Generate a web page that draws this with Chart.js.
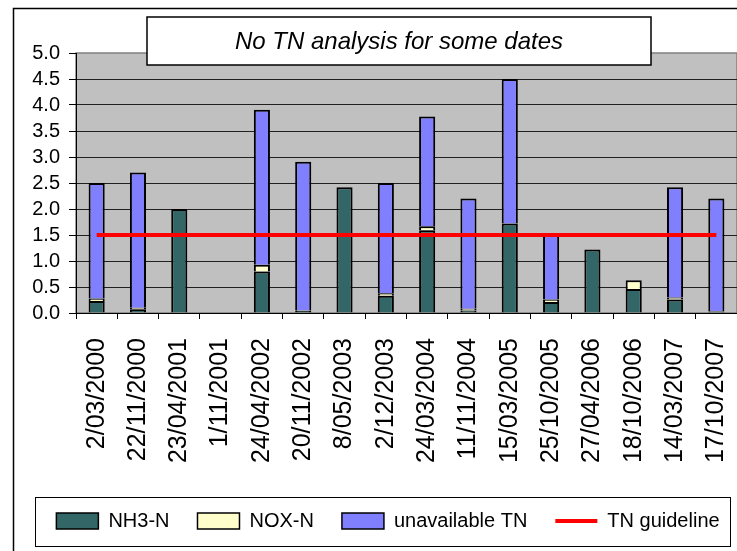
<!DOCTYPE html>
<html><head><meta charset="utf-8">
<script src="https://cdn.jsdelivr.net/npm/chart.js@4/dist/chart.umd.min.js"></script>
<style>html,body{margin:0;padding:0;background:#fff}canvas{display:block}</style>
</head><body>
<canvas id="c" width="737" height="551"></canvas>
<script>
const categories = ['2/03/2000','22/11/2000','23/04/2001','1/11/2001','24/04/2002','20/11/2002','8/05/2003','2/12/2003','24/03/2004','11/11/2004','15/03/2005','25/10/2005','27/04/2006','18/10/2006','14/03/2007','17/10/2007'];
const nh3N = [0.23, 0.07, 2.0, null, 0.80, 0.04, 2.42, 0.33, 1.59, 0.05, 1.72, 0.21, 1.22, 0.46, 0.26, 0.03];
const noxN = [0.05, 0.03, null, null, 0.13, 0.01, null, 0.05, 0.08, 0.03, null, 0.05, null, 0.17, 0.04, 0.01];
const unavailableTN = [2.22, 2.60, null, null, 2.98, 2.86, null, 2.12, 2.11, 2.12, 2.78, 1.24, null, null, 2.12, 2.16];
const tnGuideline = [1.5, 1.5, 1.5, 1.5, 1.5, 1.5, 1.5, 1.5, 1.5, 1.5, 1.5, 1.5, 1.5, 1.5, 1.5, 1.5];
const yTickLabels = ['0.0','0.5','1.0','1.5','2.0','2.5','3.0','3.5','4.0','4.5','5.0'];
const titleText = 'No TN analysis for some dates';

const decor = {
  id: 'decor',
  beforeDraw(chart) {
    const ctx = chart.ctx, a = chart.chartArea;
    ctx.save();
    ctx.fillStyle = '#fff';
    ctx.fillRect(0, 0, chart.width, chart.height);
    ctx.strokeStyle = '#000';
    ctx.lineWidth = 1.5;
    ctx.beginPath();
    ctx.moveTo(13.5, chart.height);
    ctx.lineTo(13.5, 8.5);
    ctx.lineTo(chart.width, 8.5);
    ctx.stroke();
    ctx.fillStyle = '#C0C0C0';
    ctx.fillRect(a.left, a.top, a.right - a.left, a.bottom - a.top);
    ctx.strokeStyle = '#808080';
    ctx.lineWidth = 1.5;
    ctx.strokeRect(a.left, a.top, a.right - a.left, a.bottom - a.top);
    ctx.restore();
  },
  afterLayout(chart) {
    const t = chart.titleBlock;
    t.left = 147; t.right = 651;
    chart.legend.left += 19.5;
    chart.legend.right += 19.5;
  },
  afterDraw(chart) {
    const ctx = chart.ctx, t = chart.titleBlock;
    ctx.save();
    ctx.fillStyle = '#fff';
    ctx.fillRect(t.left, 17, t.right - t.left, 48);
    ctx.strokeStyle = '#000';
    ctx.lineWidth = 1.5;
    ctx.strokeRect(t.left, 17, t.right - t.left, 48);
    ctx.restore();
    t.draw();
    const hb = chart.legend.legendHitBoxes;
    if (hb && hb.length) {
      const first = hb[0], last = hb[hb.length - 1];
      const cy = first.top + first.height / 2;
      ctx.save();
      ctx.strokeStyle = '#000';
      ctx.lineWidth = 1;
      ctx.strokeRect(Math.round(first.left - 21) + 0.5, Math.round(cy - 24) + 0.5, Math.round((last.left + last.width + 11) - (first.left - 21)), 49);
      ctx.restore();
    }
  }
};

new Chart(document.getElementById('c'), {
  data: {
    labels: categories,
    datasets: [
      { type: 'bar', label: 'NH3-N', data: nh3N, backgroundColor: '#336666', borderColor: '#000', borderWidth: 2, barPercentage: 0.39, categoryPercentage: 1 },
      { type: 'bar', label: 'NOX-N', data: noxN, backgroundColor: '#FFFFCC', borderColor: '#000', borderWidth: 2, barPercentage: 0.39, categoryPercentage: 1 },
      { type: 'bar', label: 'unavailable TN', data: unavailableTN, backgroundColor: '#8080FF', borderColor: '#000', borderWidth: 2, barPercentage: 0.39, categoryPercentage: 1 },
      { type: 'line', label: 'TN guideline', data: tnGuideline, borderColor: '#FF0000', backgroundColor: '#FF0000', borderWidth: 4, pointRadius: 0, order: -1, tension: 0 }
    ]
  },
  options: {
    responsive: false,
    animation: false,
    devicePixelRatio: 1,
    layout: { padding: { left: 0, right: 0, top: 0, bottom: 10 } },
    plugins: {
      tooltip: { enabled: false },
      title: {
        display: true, text: titleText, color: '#000',
        font: { family: '"Liberation Sans", Arial, sans-serif', style: 'italic', weight: 'normal', size: 24, lineHeight: 1 },
        padding: { top: 30, bottom: -1 }
      },
      legend: {
        position: 'bottom',
        labels: {
          color: '#000',
          usePointStyle: true, pointStyleWidth: 42, boxWidth: 42, boxHeight: 16, padding: 28,
          font: { family: '"Liberation Sans", Arial, sans-serif', size: 20, lineHeight: 1 },
          sort: (a, b) => a.datasetIndex - b.datasetIndex,
          generateLabels(chart) {
            const items = Chart.defaults.plugins.legend.labels.generateLabels(chart);
            items.forEach(it => {
              const ds = chart.data.datasets[it.datasetIndex];
              if (ds.type === 'line') { it.pointStyle = 'line'; it.lineWidth = 4; it.strokeStyle = '#FF0000'; }
              else { it.pointStyle = 'rect'; it.lineWidth = 1.5; it.strokeStyle = '#000'; }
            });
            return items;
          }
        }
      }
    },
    scales: {
      x: {
        stacked: true,
        grid: { offset: true, drawOnChartArea: false, drawTicks: true, tickLength: 6, color: '#000', lineWidth: 1 },
        border: { color: '#000', width: 1 },
        ticks: { autoSkip: false, maxRotation: 90, minRotation: 90, padding: 19, color: '#000',
          font: { family: '"Liberation Sans", Arial, sans-serif', size: 25 } },
        afterFit(s) { s.height = 170; s.paddingLeft = 0; s.paddingRight = 0; }
      },
      y: {
        stacked: true, min: 0, max: 5,
        grid: { color: c => (c.tick && c.tick.value === 5 ? 'rgba(0,0,0,0)' : '#202020'), tickColor: '#000', tickLength: 7, lineWidth: 1 },
        border: { color: '#000', width: 1 },
        ticks: { stepSize: 0.5, autoSkip: false, padding: 9, color: '#000',
          font: { family: '"Liberation Sans", Arial, sans-serif', size: 20 },
          callback: (v, i) => yTickLabels[i] },
        afterFit(s) { s.width = 76; s.paddingTop = 0; s.paddingBottom = 0; }
      }
    }
  },
  plugins: [decor]
});
</script>
</body></html>
